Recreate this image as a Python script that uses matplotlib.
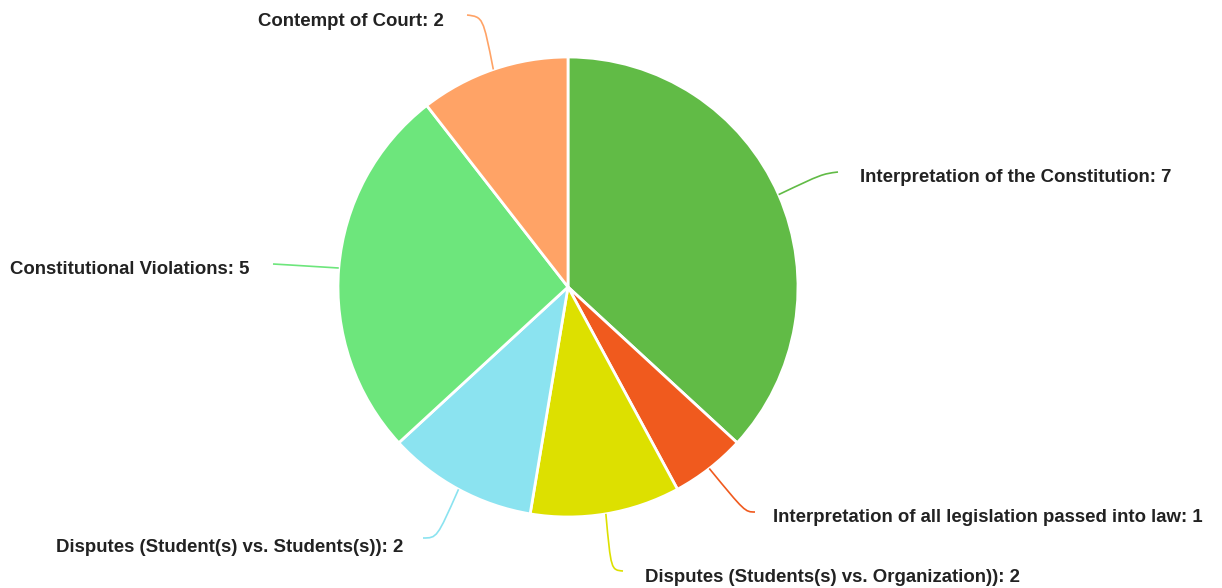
import matplotlib
matplotlib.use("Agg")
import matplotlib.pyplot as plt
from matplotlib.path import Path
from matplotlib.patches import PathPatch
import numpy as np

# data
categories = [
    "Interpretation of the Constitution",
    "Interpretation of all legislation passed into law",
    "Disputes (Students(s) vs. Organization))",
    "Disputes (Student(s) vs. Students(s))",
    "Constitutional Violations",
    "Contempt of Court",
]
values = [7, 1, 2, 2, 5, 2]
colors = ["#61bb46", "#f05a1e", "#dde000", "#8be3f0", "#6de67c", "#ffa366"]

# layout in pixel coords (y down): label anchor, alignment, connector corner, connector end
W, H = 1222, 588
cx, cy, R = 568, 287, 230
label_pos = [(860, 178, "left"), (773, 518, "left"), (645, 578, "left"),
             (403, 547, "right"), (250, 269, "right"), (444, 21, "right")]
corners = [(822, 174), (745, 512), (611, 570), (437, 538), (290, 265), (483, 17)]
ends = [(838, 172), (755, 512), (623, 571), (423, 538), (273, 264), (467, 15)]

fig = plt.figure(figsize=(W / 100, H / 100), dpi=100)
ax = fig.add_axes([0, 0, 1, 1])

ax.pie(values, colors=colors, startangle=90, counterclock=False,
       center=(cx, H - cy), radius=R,
       wedgeprops=dict(edgecolor="white", linewidth=2))

ax.set_xlim(0, W)
ax.set_ylim(0, H)
ax.set_aspect("equal")
ax.axis("off")

total = sum(values)
cum = np.cumsum([0] + values)
for i, (cat, v) in enumerate(zip(categories, values)):
    mid = (cum[i] + v / 2) / total * 2 * np.pi
    sx, sy = cx + R * np.sin(mid), cy - R * np.cos(mid)
    kx, ky = corners[i]
    ex, ey = ends[i]
    verts = [(sx, H - sy), (kx, H - ky), (kx, H - ky), (ex, H - ey)]
    path = Path(verts, [Path.MOVETO, Path.CURVE4, Path.CURVE4, Path.CURVE4])
    ax.add_patch(PathPatch(path, fill=False, edgecolor=colors[i], lw=1.2))

    lx, ly, ha = label_pos[i]
    ax.text(lx, H - ly, f"{cat}: {v}", ha=ha, va="center",
            fontsize=13.4, fontweight="bold", family="Liberation Sans", color="#222222")

fig.savefig("out.png", dpi=100)
